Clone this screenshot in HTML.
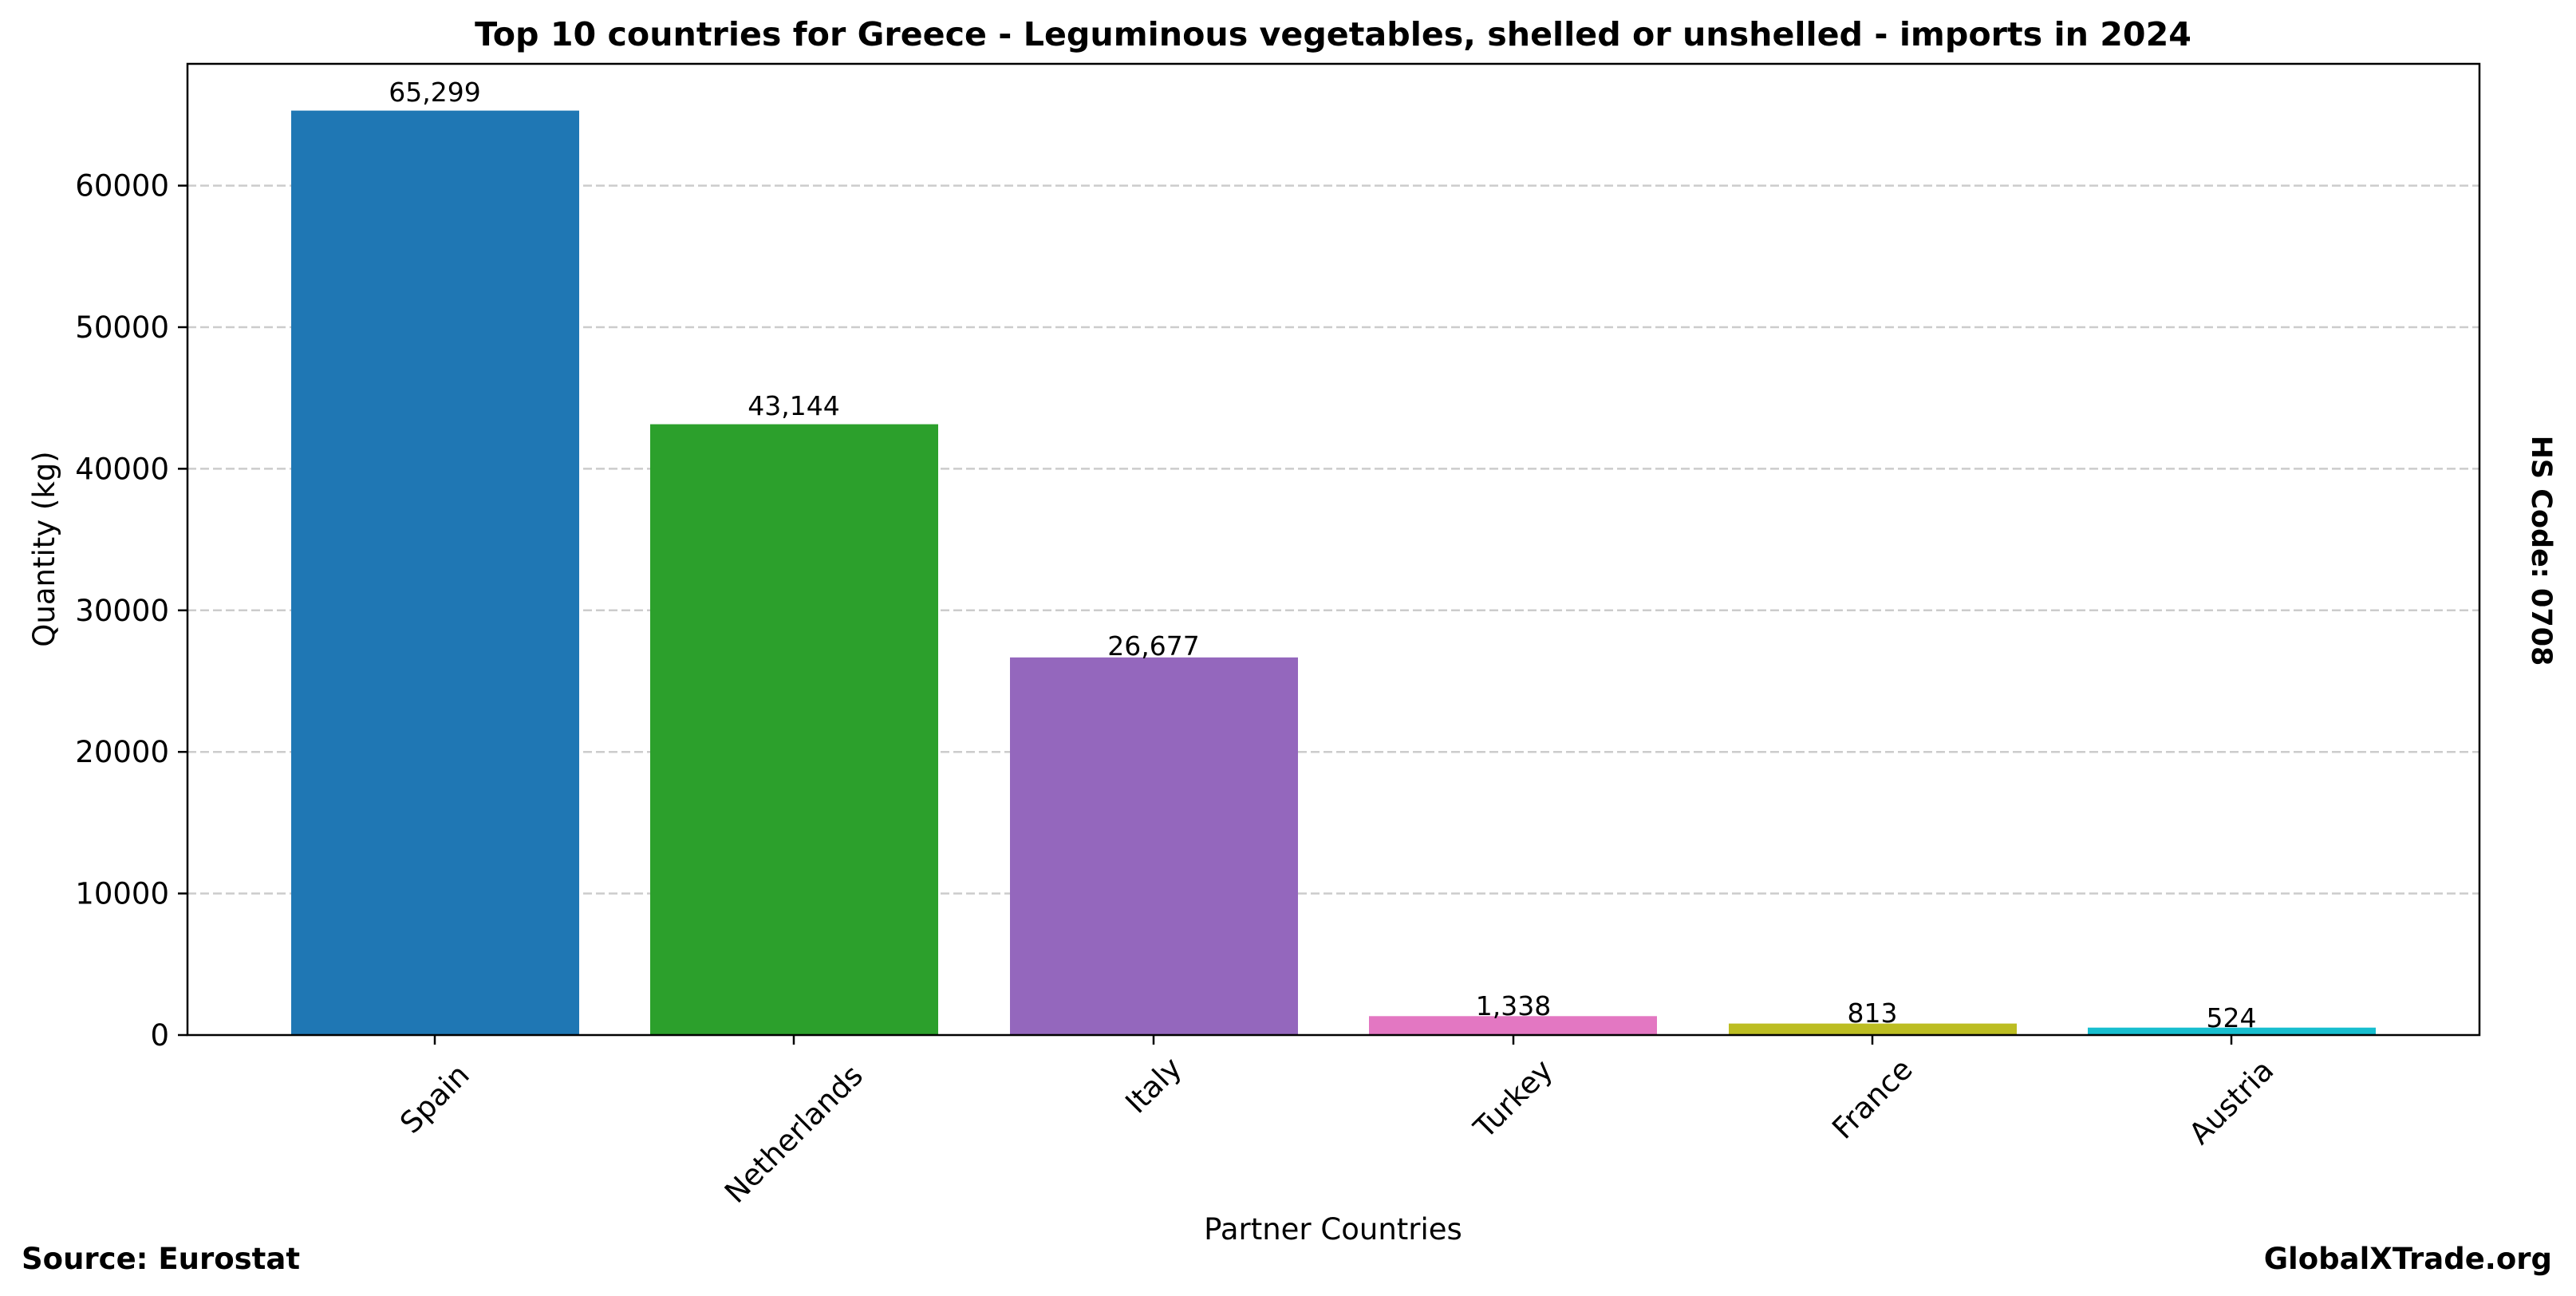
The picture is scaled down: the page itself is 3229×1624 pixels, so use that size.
<!DOCTYPE html>
<html><head><meta charset="utf-8"><style>html,body{margin:0;padding:0;background:#fff}svg{display:block}</style></head>
<body>
<svg width="3229" height="1624" xmlns="http://www.w3.org/2000/svg" font-family="'DejaVu Sans','Liberation Sans',sans-serif">
<rect width="3229" height="1624" fill="#fff"/>
<text x="1671" y="57" font-size="41.2" font-weight="bold" text-anchor="middle">Top 10 countries for Greece - Leguminous vegetables, shelled or unshelled - imports in 2024</text>
<g stroke="#cccccc" stroke-width="2.5" stroke-dasharray="11,5">
<line x1="235" y1="1119.6" x2="3108" y2="1119.6"/>
<line x1="235" y1="942.2" x2="3108" y2="942.2"/>
<line x1="235" y1="764.8" x2="3108" y2="764.8"/>
<line x1="235" y1="587.4" x2="3108" y2="587.4"/>
<line x1="235" y1="410" x2="3108" y2="410"/>
<line x1="235" y1="232.6" x2="3108" y2="232.6"/>
</g>
<rect x="365" y="138.6" width="361" height="1158.4" fill="#1f77b4"/>
<rect x="815" y="531.6" width="361" height="765.4" fill="#2ca02c"/>
<rect x="1266" y="823.8" width="361" height="473.2" fill="#9467bd"/>
<rect x="1716" y="1273.3" width="361" height="23.7" fill="#e377c2"/>
<rect x="2167" y="1282.6" width="361" height="14.4" fill="#bcbd22"/>
<rect x="2617" y="1287.7" width="361" height="9.3" fill="#17becf"/>
<g font-size="33" text-anchor="middle">
<text x="545" y="127">65,299</text>
<text x="995" y="520">43,144</text>
<text x="1446" y="821">26,677</text>
<text x="1897" y="1272">1,338</text>
<text x="2347" y="1281">813</text>
<text x="2797" y="1287">524</text>
</g>
<rect x="235" y="80" width="2873" height="1217" fill="none" stroke="#000" stroke-width="2.5"/>
<g stroke="#000" stroke-width="2.5">
<line x1="223" y1="1297" x2="235" y2="1297"/><line x1="223" y1="1119.6" x2="235" y2="1119.6"/><line x1="223" y1="942.2" x2="235" y2="942.2"/><line x1="223" y1="764.8" x2="235" y2="764.8"/><line x1="223" y1="587.4" x2="235" y2="587.4"/><line x1="223" y1="410" x2="235" y2="410"/><line x1="223" y1="232.6" x2="235" y2="232.6"/>
<line x1="545" y1="1297" x2="545" y2="1309"/><line x1="995" y1="1297" x2="995" y2="1309"/><line x1="1446" y1="1297" x2="1446" y2="1309"/><line x1="1897" y1="1297" x2="1897" y2="1309"/><line x1="2347" y1="1297" x2="2347" y2="1309"/><line x1="2797" y1="1297" x2="2797" y2="1309"/>
</g>
<g font-size="37" text-anchor="end">
<text x="212" y="1310">0</text>
<text x="212" y="1132.6">10000</text>
<text x="212" y="955.2">20000</text>
<text x="212" y="777.8">30000</text>
<text x="212" y="600.4">40000</text>
<text x="212" y="423">50000</text>
<text x="212" y="245.6">60000</text>
</g>
<g font-size="37" text-anchor="middle" dominant-baseline="central">
<text transform="translate(545,1377) rotate(-45)">Spain</text>
<text transform="translate(995,1421) rotate(-45)">Netherlands</text>
<text transform="translate(1446,1360) rotate(-45)">Italy</text>
<text transform="translate(1897,1377) rotate(-45)">Turkey</text>
<text transform="translate(2347,1377) rotate(-45)">France</text>
<text transform="translate(2797,1381) rotate(-45)">Austria</text>
</g>
<text x="1671" y="1553" font-size="37" text-anchor="middle">Partner Countries</text>
<text transform="translate(68,688) rotate(-90)" font-size="37" text-anchor="middle">Quantity (kg)</text>
<text transform="translate(3174,690) rotate(90)" font-size="35" font-weight="bold" text-anchor="middle">HS Code: 0708</text>
<text x="27" y="1590" font-size="37" font-weight="bold">Source: Eurostat</text>
<text x="3199" y="1590" font-size="37" font-weight="bold" text-anchor="end">GlobalXTrade.org</text>
</svg>
</body></html>
